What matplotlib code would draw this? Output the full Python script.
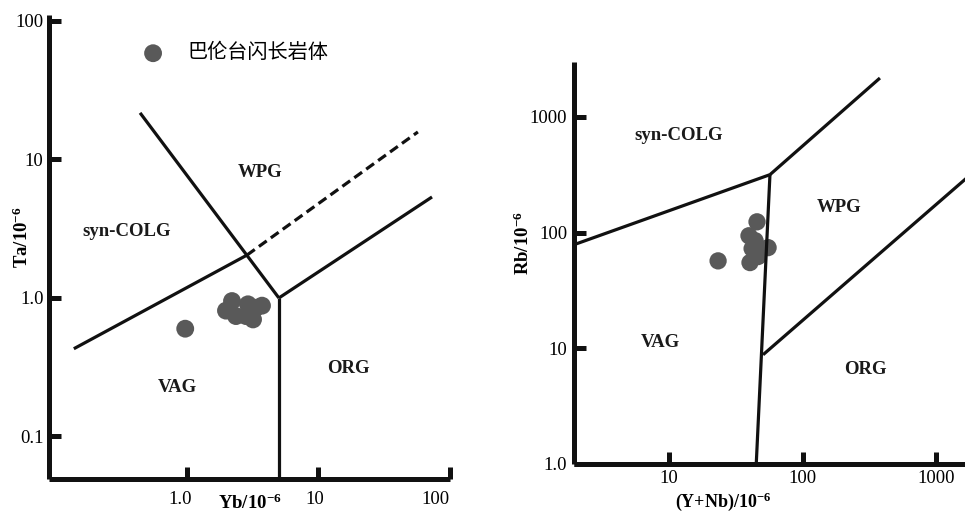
import matplotlib
matplotlib.use("Agg")
import matplotlib.pyplot as plt
from matplotlib.transforms import ScaledTranslation

plt.rcParams['font.family'] = ['Liberation Serif', 'DejaVu Serif']
plt.rcParams['mathtext.fontset'] = 'custom'
plt.rcParams['mathtext.rm'] = 'Liberation Serif'
plt.rcParams['mathtext.bf'] = 'Liberation Serif:bold'

# ---------------- data ----------------
legend_label = "巴伦台闪长岩体"

# Ta-Yb diagram samples
yb = [0.97, 2.20, 1.98, 2.36, 2.91, 2.81, 3.35, 3.72, 3.18]
ta = [0.60, 0.95, 0.81, 0.74, 0.90, 0.74, 0.85, 0.88, 0.70]

# Rb-(Y+Nb) diagram samples
ynb = [23.3, 45.6, 39.7, 41.9, 55.2, 40.4, 46.4, 44.1]
rb = [57.0, 124.0, 94.0, 72.8, 74.2, 55.1, 62.1, 85.3]

# Ta-Yb boundaries
tayb_wpg_x = [0.44, 5.0]
tayb_wpg_y = [21.7, 1.0]
tayb_vag_x = [0.138, 2.86]
tayb_vag_y = [0.43, 2.04]
tayb_dash_x = [2.86, 57.0]
tayb_dash_y = [2.04, 15.8]
tayb_org_x = [5.0, 73.0]
tayb_org_y = [1.0, 5.36]
tayb_vert_x = [5.0, 5.0]
tayb_vert_y = [1.0, 0.04]

tayb_labels = ["syn-COLG", "WPG", "VAG", "ORG"]
tayb_lab_x = [0.35, 3.59, 0.84, 16.8]
tayb_lab_y = [3.0, 8.1, 0.224, 0.31]

# Rb-(Y+Nb) boundaries
rb_colg_x = [1.9, 57.0]
rb_colg_y = [78.0, 317.0]
rb_wpgup_x = [57.0, 380.0]
rb_wpgup_y = [317.0, 2170.0]
rb_vert_x = [57.0, 45.0]
rb_vert_y = [317.0, 1.0]
rb_org_x = [50.6, 2000.0]
rb_org_y = [8.8, 350.0]

rb_labels = ["syn-COLG", "WPG", "VAG", "ORG"]
rb_lab_x = [11.9, 188.0, 8.6, 294.0]
rb_lab_y = [689.0, 165.0, 11.2, 6.5]

# axis ticks
l_xticks = [1.0, 10.0, 100.0]
l_xticklabels = ["1.0", "10", "100"]
l_yticks = [0.1, 1.0, 10.0, 100.0]
l_yticklabels = ["0.1", "1.0", "10", "100"]
r_xticks = [10.0, 100.0, 1000.0]
r_xticklabels = ["10", "100", "1000"]
r_yticks = [1.0, 10.0, 100.0, 1000.0]
r_yticklabels = ["1.0", "10", "100", "1000"]

# ---------------- figure ----------------
W, H = 965, 514
fig = plt.figure(figsize=(W / 100, H / 100), dpi=100)

def px_axes(x0, x1, y0, y1):
    return fig.add_axes([x0 / W, 1 - y1 / H, (x1 - x0) / W, (y1 - y0) / H])

axL = px_axes(49, 450, 15, 479)
axR = px_axes(574, 965, 62, 464)

pt_col = "#595959"
ln_col = "#111111"
lw = 2.3

def style(ax):
    ax.set_xscale("log")
    ax.set_yscale("log")
    for s in ["top", "right"]:
        ax.spines[s].set_visible(False)
    for s in ["left", "bottom"]:
        ax.spines[s].set_linewidth(3.6)
        ax.spines[s].set_color(ln_col)
        ax.spines[s].set_capstyle("butt")
    ax.minorticks_off()
    ax.tick_params(which="major", direction="in", length=8.5, width=3.6,
                   color=ln_col, labelsize=13.5)
    ax.set_facecolor("none")

# ---- left: Ta vs Yb ----
style(axL)
axL.set_xlim(10 ** -1.049, 100)
axL.set_ylim(10 ** -1.307, 10 ** 2.043)
axL.scatter(yb, ta, s=165, color=pt_col, edgecolors="none", zorder=2,
            label=legend_label)
for xs, ys in [(tayb_wpg_x, tayb_wpg_y), (tayb_vag_x, tayb_vag_y),
               (tayb_org_x, tayb_org_y), (tayb_vert_x, tayb_vert_y)]:
    axL.plot(xs, ys, color=ln_col, lw=lw, zorder=3, solid_capstyle="butt")
axL.plot(tayb_dash_x, tayb_dash_y, color=ln_col, lw=lw, zorder=3,
         dashes=(3.0, 1.6), dash_capstyle="butt")
for t, x, y in zip(tayb_labels, tayb_lab_x, tayb_lab_y):
    axL.text(x, y, t, ha="center", va="center", fontsize=13.5,
             fontweight="bold", color="#1a1a1a")
axL.set_xticks(l_xticks)
axL.set_xticklabels(l_xticklabels)
axL.set_yticks(l_yticks)
axL.set_yticklabels(l_yticklabels)
axL.tick_params(axis="x", pad=9)
axL.tick_params(axis="y", pad=4)
offs = [-7, -4, -15]
for lab, dx in zip(axL.get_xticklabels(), offs):
    lab.set_transform(lab.get_transform() + ScaledTranslation(dx / 100, 0, fig.dpi_scale_trans))
axL.set_xlabel(r"$\mathbf{Yb/10^{-6}}$", fontsize=13.5)
axL.xaxis.set_label_coords(0.501, -0.052)
axL.xaxis.label.set_va("center")
axL.set_ylabel(r"$\mathbf{Ta/10^{-6}}$", fontsize=13.5)
axL.yaxis.set_label_coords(-0.067, 0.5216)
axL.yaxis.label.set_va("center")

leg = axL.legend(loc="center left", bbox_to_anchor=(143 / W, 1 - 53 / H),
                 bbox_transform=fig.transFigure, frameon=False,
                 prop={"family": ["Noto Sans CJK SC", "DejaVu Sans"], "size": 14.5},
                 handlelength=1.0, handletextpad=1.2, borderpad=0,
                 borderaxespad=0, scatterpoints=1)

# ---- right: Rb vs Y+Nb ----
style(axR)
axR.set_xlim(10 ** 0.288, 10 ** 3.217)
axR.set_ylim(1.0, 10 ** 3.475)
axR.scatter(ynb, rb, s=155, color=pt_col, edgecolors="none", zorder=2)
for xs, ys in [(rb_colg_x, rb_colg_y), (rb_wpgup_x, rb_wpgup_y),
               (rb_vert_x, rb_vert_y), (rb_org_x, rb_org_y)]:
    axR.plot(xs, ys, color=ln_col, lw=lw, zorder=3, solid_capstyle="butt")
for t, x, y in zip(rb_labels, rb_lab_x, rb_lab_y):
    axR.text(x, y, t, ha="center", va="center", fontsize=13.5,
             fontweight="bold", color="#1a1a1a")
axR.set_xticks(r_xticks)
axR.set_xticklabels(r_xticklabels)
axR.set_yticks(r_yticks)
axR.set_yticklabels(r_yticklabels)
axR.tick_params(axis="x", pad=4)
axR.tick_params(axis="y", pad=5)
axR.set_xlabel(r"$\mathbf{(Y{+}Nb)/10^{-6}}$", fontsize=13)
axR.xaxis.set_label_coords(0.381, -0.094)
axR.xaxis.label.set_va("center")
axR.set_ylabel(r"$\mathbf{Rb/10^{-6}}$", fontsize=13.5)
axR.yaxis.set_label_coords(-0.130, 0.550)
axR.yaxis.label.set_va("center")

fig.savefig("out.png", dpi=100)
